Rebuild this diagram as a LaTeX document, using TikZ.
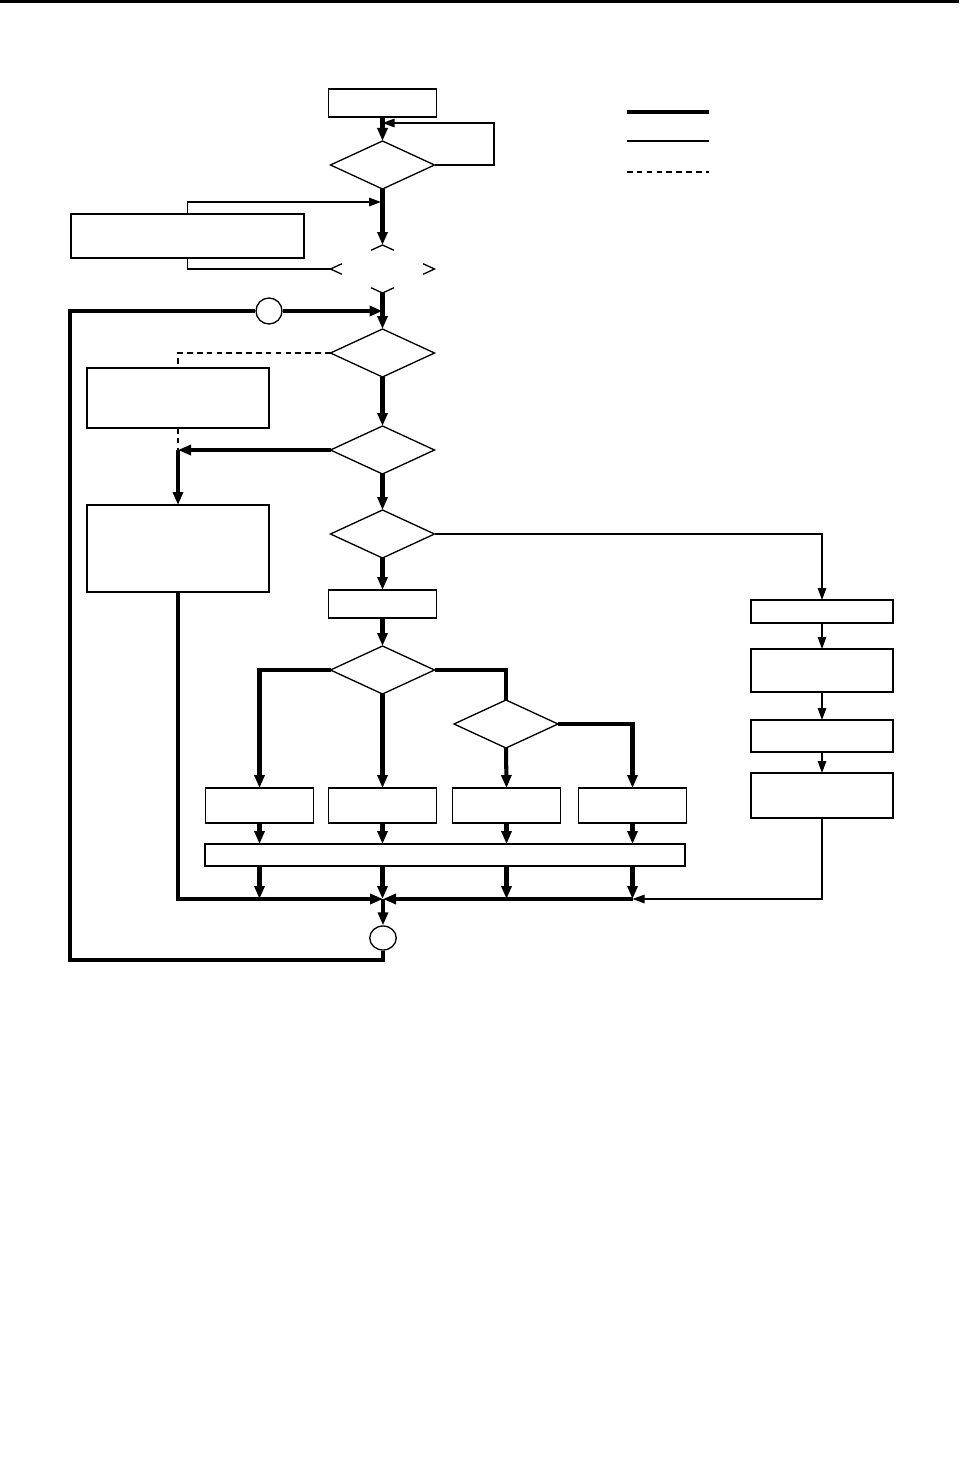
\documentclass[tikz,border=0pt]{standalone}
\usetikzlibrary{arrows.meta,positioning,calc,shapes.geometric}

\begin{document}
\begin{tikzpicture}[x=0.2mm, y=-0.2mm,
  box/.style={draw, line width=0.75pt, minimum width=21.6mm, minimum height=5.6mm, inner sep=0pt, outer sep=0pt},
  dec/.style={draw, diamond, line width=0.75pt, minimum width=20.8mm, minimum height=9.6mm, inner sep=0pt, outer sep=0pt},
  rbox/.style={box, minimum width=28.4mm},
  thk/.style={line width=2.3pt},
  thn/.style={line width=0.75pt},
  dsh/.style={line width=0.75pt, dash pattern=on 3.2pt off 2.4pt},
  arr/.style={-{Triangle[length=2.6mm, width=2mm]}},
  sarr/.style={-{Triangle[length=2.4mm, width=1.7mm]}}
]
\useasboundingbox (0,0) rectangle (959,1457);

% page rule and legend
\draw[line width=1.7pt] (0,1.5) -- (959,1.5);
\draw[thk] (627,112) -- (709,112);
\draw[thn] (627,141) -- (709,141);
\draw[dsh] (627,172) -- (709,172);

% main column
\node[box] (start) at (382.5,103) {};
\node[dec, below=4.8mm of start] (d1) {};
\node[dec, draw=none, below=11.2mm of d1] (hid) {};
\node[dec, below=7.2mm of hid] (d3) {};
\node[dec, below=9.8mm of d3] (d4) {};
\node[dec, below=7.2mm of d4] (d5) {};
\node[box, below=6.4mm of d5] (prep) {};
\node[dec, below=5.6mm of prep] (d6) {};
\node[box, minimum height=7mm, below=18.8mm of d6] (e2) {};
\node[box, minimum height=7mm, left=3mm of e2] (e1) {};
\node[box, minimum height=7mm, right=3.2mm of e2] (e3) {};
\node[box, minimum height=7mm, right=3.6mm of e3] (e4) {};
\node[dec] (d7) at (506,724) {};
\node[box, minimum width=96mm, minimum height=4.4mm] (merge) at (445,855) {};
\node[draw, ellipse, thn, minimum width=5.3mm, minimum height=4.8mm, inner sep=0pt] (ell) at (383,938) {};
\node[draw, circle, thn, minimum size=5.2mm, inner sep=0pt] (conn) at (269,311) {};

% left side
\node[box, minimum width=46.6mm, minimum height=8.8mm] (boxa) at (187.5,236) {};
\node[box, minimum width=36.4mm, minimum height=12mm] (boxb) at (178,398) {};
\node[box, minimum width=36.4mm, minimum height=17.4mm] (boxc) at (178,548.5) {};

% right column
\node[rbox, minimum height=4.6mm] (r1) at (822,611.5) {};
\node[rbox, minimum height=8.6mm, below=5.2mm of r1] (r2) {};
\node[rbox, minimum height=6.4mm, below=5.6mm of r2] (r3) {};
\node[rbox, minimum height=9mm, below=4.2mm of r3] (r4) {};

\coordinate (lp) at (494,123);
\coordinate (ina) at (381,202);
\coordinate (entry) at (d3.north |- conn);
\coordinate (bend) at (boxb.south |- d4.west);
\coordinate (join) at (383,899);
\coordinate (lb) at (70,960);
\coordinate (lt) at (70,311);

% hidden diamond, corners only
\foreach \c/\a/\b in {north/west/east, south/west/east, west/north/south, east/north/south}
  \draw[thn] ($(hid.\c)!0.22!(hid.\a)$) -- (hid.\c) -- ($(hid.\c)!0.22!(hid.\b)$);

\draw[thk,arr] (start.south) -- (d1.north);
\draw[thn,sarr] (d1.east) -| (lp) -- (lp -| start.south);
\draw[thk,arr] (d1.south) -- (hid.north);
\draw[thn,sarr] (boxa.north) |- (ina);
\draw[thn] (boxa.south) |- (hid.west);
\draw[thk,arr] (hid.south) -- (d3.north);
\draw[thk,arr] (conn.east) -- (entry);
\draw[dsh] (d3.west) -| (boxb.north);
\draw[dsh] (boxb.south) -- (bend);
\draw[thk,arr] (d3.south) -- (d4.north);
\draw[thk,arr] (d4.west) -- (bend);
\draw[thk,arr] (bend) -- (boxc.north);
\draw[thk,arr] (d4.south) -- (d5.north);
\draw[thn,sarr] (d5.east) -| (r1.north);
\draw[thk,arr] (d5.south) -- (prep.north);
\draw[thk,arr] (prep.south) -- (d6.north);

\draw[thk,arr] (d6.west) -| (e1.north);
\draw[thk,arr] (d6.south) -- (e2.north);
\draw[thk] (d6.east) -| (d7.north);
\draw[thk,arr] (d7.south) -- (e3.north);
\draw[thk,arr] (d7.east) -| (e4.north);

\foreach \e in {e1,e2,e3,e4} {
  \draw[thk,arr] (\e.south) -- (\e.south |- merge.north);
  \draw[thk,arr] (\e.south |- merge.south) -- (\e.south |- join);
}

\draw[thn,sarr] (r1.south) -- (r2.north);
\draw[thn,sarr] (r2.south) -- (r3.north);
\draw[thn,sarr] (r3.south) -- (r4.north);
\draw[thn,sarr] (r4.south) |- (e4.south |- join);
\draw[thk,arr] (e4.south |- join) -- (join);
\draw[thk,arr] (boxc.south) |- (join);

\draw[thk,arr] (join) -- (ell.north);
\draw[thk] (ell.south) |- (lb) -- (lt) -- (conn.west);

\end{tikzpicture}
\end{document}
